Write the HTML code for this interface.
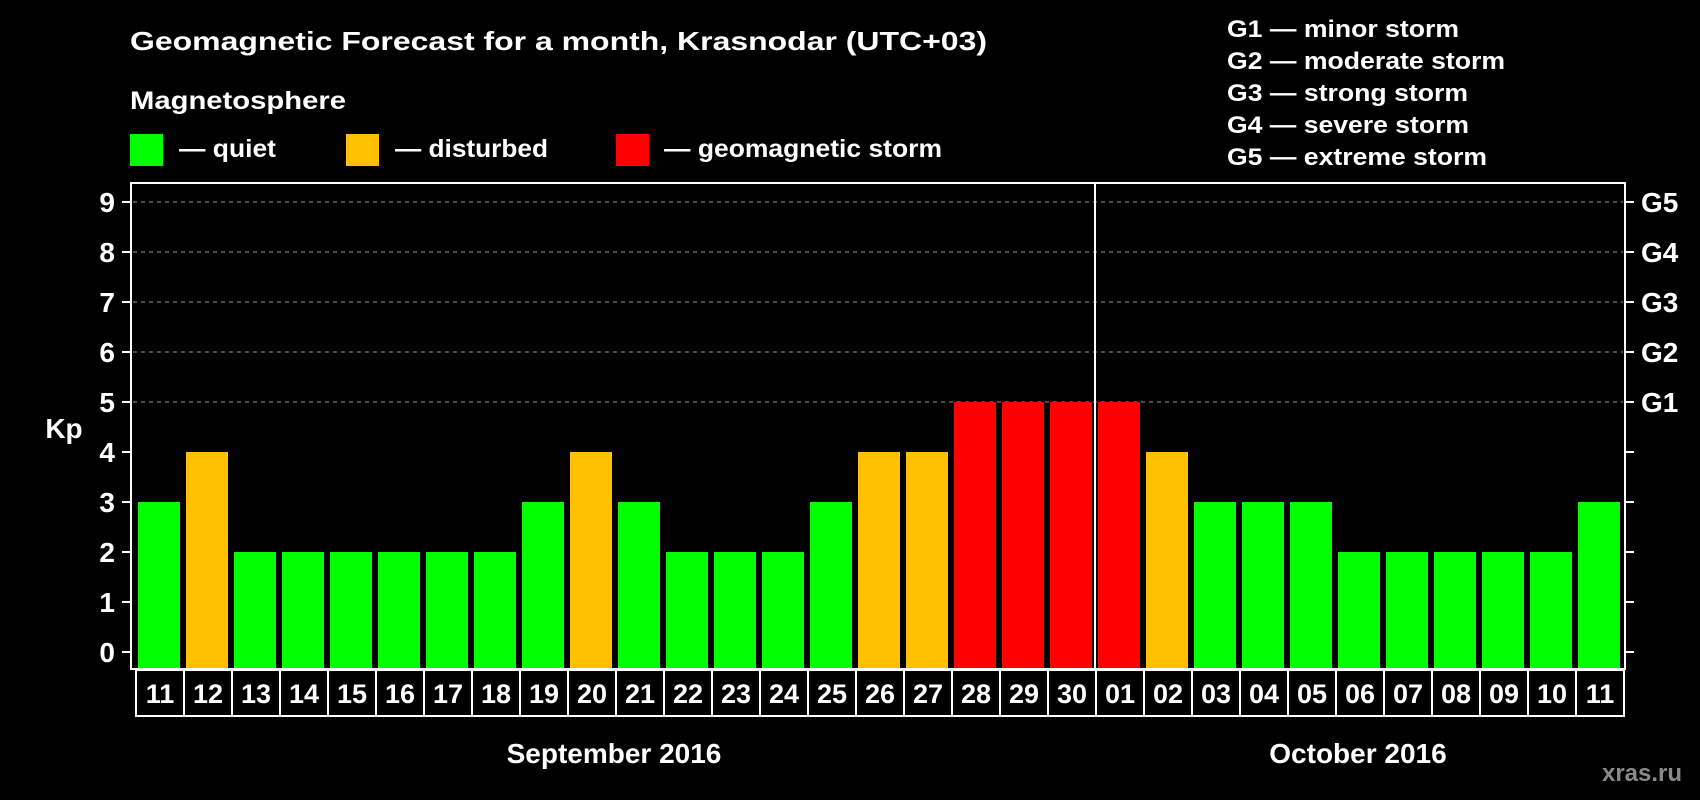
<!DOCTYPE html>
<html><head><meta charset="utf-8"><style>
html,body{margin:0;padding:0;background:#000;}
svg{display:block;font-family:"Liberation Sans",Arial,sans-serif;font-weight:bold;}
</style></head><body>
<svg id="chart" width="1700" height="800" viewBox="0 0 1700 800">
<rect x="0" y="0" width="1700" height="800" fill="#000"/>
<text x="130" y="50" fill="#fff" font-size="26" textLength="857" lengthAdjust="spacingAndGlyphs">Geomagnetic Forecast for a month, Krasnodar (UTC+03)</text>
<text x="130" y="109" fill="#fff" font-size="25" textLength="216" lengthAdjust="spacingAndGlyphs">Magnetosphere</text>
<rect x="130" y="134" width="33" height="32" fill="#00ff00"/>
<text x="179" y="157" fill="#fff" font-size="25" textLength="97" lengthAdjust="spacingAndGlyphs">— quiet</text>
<rect x="346" y="134" width="33" height="32" fill="#ffc000"/>
<text x="395" y="157" fill="#fff" font-size="25" textLength="153" lengthAdjust="spacingAndGlyphs">— disturbed</text>
<rect x="616" y="134" width="33" height="32" fill="#ff0000"/>
<text x="664" y="157" fill="#fff" font-size="25" textLength="278" lengthAdjust="spacingAndGlyphs">— geomagnetic storm</text>
<g font-size="24" fill="#fff">
<text x="1227" y="37" textLength="232" lengthAdjust="spacingAndGlyphs">G1 — minor storm</text>
<text x="1227" y="69" textLength="278" lengthAdjust="spacingAndGlyphs">G2 — moderate storm</text>
<text x="1227" y="101" textLength="241" lengthAdjust="spacingAndGlyphs">G3 — strong storm</text>
<text x="1227" y="133" textLength="242" lengthAdjust="spacingAndGlyphs">G4 — severe storm</text>
<text x="1227" y="165" textLength="260" lengthAdjust="spacingAndGlyphs">G5 — extreme storm</text>
</g>
<text x="64" y="438" fill="#fff" font-size="28" text-anchor="middle">Kp</text>
<g id="grid"></g>
<g id="bars"></g>
<g id="xlabels"></g>
<rect x="131" y="183" width="1494" height="486" fill="none" stroke="#fff" stroke-width="2"/>
<line x1="1095" y1="183" x2="1095" y2="669" stroke="#fff" stroke-width="2"/>
<text x="614" y="763" fill="#fff" font-size="28" text-anchor="middle">September 2016</text>
<text x="1358" y="763" fill="#fff" font-size="28" text-anchor="middle">October 2016</text>
<text x="1642" y="781" fill="#8a8a8a" font-size="24" text-anchor="middle">xras.ru</text>
</svg>
<script>
const days = ["11","12","13","14","15","16","17","18","19","20","21","22","23","24","25","26","27","28","29","30","01","02","03","04","05","06","07","08","09","10","11"];
const kp = [3,4,2,2,2,2,2,2,3,4,3,2,2,2,3,4,4,5,5,5,5,4,3,3,3,2,2,2,2,2,3];
const yTicks = [0,1,2,3,4,5,6,7,8,9];
const gLabels = ["G1","G2","G3","G4","G5"];
const gLevels = [5,6,7,8,9];

const NS = "http://www.w3.org/2000/svg";
const y = v => 652 - v * 50;
const x = i => 138 + i * 48;
const color = v => v >= 5 ? "#ff0000" : (v >= 4 ? "#ffc000" : "#00ff00");
function mk(tag, attrs, parent) {
  const e = document.createElementNS(NS, tag);
  for (const k in attrs) e.setAttribute(k, attrs[k]);
  parent.appendChild(e);
  return e;
}
const grid = document.getElementById("grid");
yTicks.forEach(t => {
  const yy = y(t);
  if (t >= 5) {
    const g = mk("line", {x1: 133, x2: 1623, y1: yy, y2: yy, stroke: "#9a9a9a", "stroke-width": 1, "stroke-dasharray": "4,4"}, grid);
    
    
  }
  const l = mk("line", {x1: 122, x2: 131, y1: yy, y2: yy, stroke: "#fff", "stroke-width": 2}, grid);
  
  
  const r = mk("line", {x1: 1625, x2: 1634, y1: yy, y2: yy, stroke: "#fff", "stroke-width": 2}, grid);
  
  
  const tx = mk("text", {x: 115, y: yy + 10, fill: "#fff", "font-size": 28, "text-anchor": "end"}, grid);
  tx.textContent = t;
  
  
});
gLabels.forEach((g, i) => {
  const tx = mk("text", {x: 1641, y: y(gLevels[i]) + 10, fill: "#fff", "font-size": 28}, grid);
  tx.textContent = g;
  
  
});
const bars = document.getElementById("bars");
const xl = document.getElementById("xlabels");
kp.forEach((v, i) => {
  const b = mk("rect", {x: x(i), y: y(v), width: 42, height: 668 - y(v), fill: color(v)}, bars);
  
  
  const box = mk("rect", {x: 136 + i * 48, y: 670, width: 48, height: 46, fill: "none", stroke: "#fff", "stroke-width": 2}, xl);
  
  
  const t = mk("text", {x: 160 + i * 48, y: 703, fill: "#fff", "font-size": 27, "text-anchor": "middle"}, xl);
  t.textContent = days[i];
  
  
});
</script>
</body></html>
